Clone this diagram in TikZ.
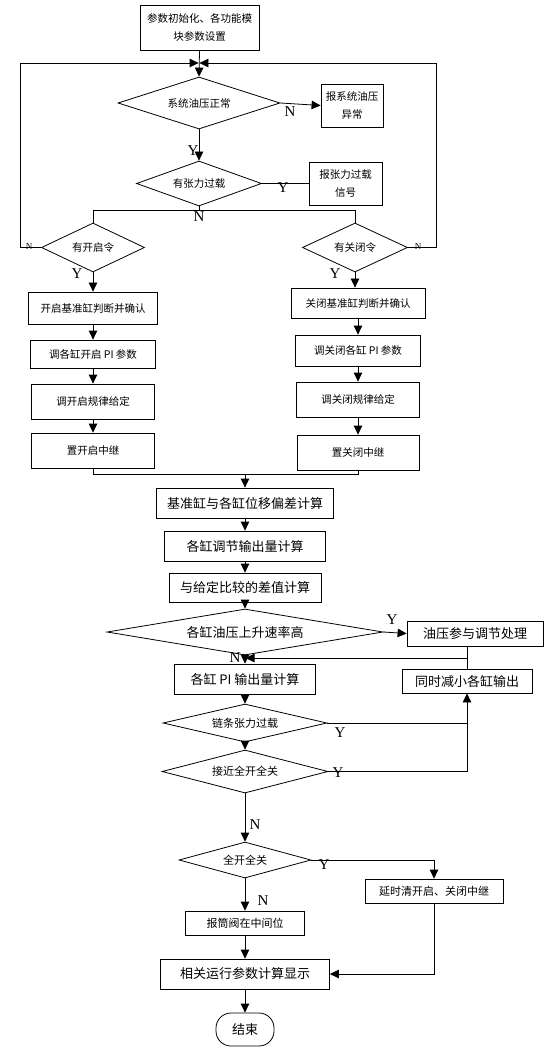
\documentclass[tikz,border=0pt]{standalone}
\usepackage{fontspec}
\setmainfont{Liberation Serif}
\newfontfamily\cjk{Noto Sans CJK SC}
\usetikzlibrary{shapes.geometric,arrows.meta}
\begin{document}
\begin{tikzpicture}[x=1pt,y=-1pt,line width=0.8pt,
  box/.style={draw,rectangle,inner sep=0pt,align=center},
  dia/.style={draw,diamond,aspect=5,inner sep=0pt,align=center},
  tS/.style={font=\cjk\fontsize{10.5}{18}\selectfont},
  tM/.style={font=\cjk\fontsize{11}{18}\selectfont},
  tL/.style={font=\cjk\fontsize{13}{18}\selectfont},
  arr/.style={-{Triangle[length=9pt,width=8.5pt]}},
  yn/.style={font=\fontsize{15}{15}\selectfont,inner sep=0pt},
  ynsmall/.style={font=\fontsize{9}{9}\selectfont,inner sep=0pt}]
\useasboundingbox (0,0) rectangle (547,1064);
% ---------- top part ----------
\node[box,tS,minimum width=119pt,minimum height=45pt] (init) at (199.5,27.5) {参数初始化、各功能模\\块参数设置};
\node[dia,tS,minimum width=162pt,minimum height=52pt] (d1) at (199,103) {系统油压正常};
\node[box,tS,minimum width=62pt,minimum height=43pt] (a1) at (352,105.5) {报系统油压\\异常};
\node[dia,tS,minimum width=125pt,minimum height=45pt] (d2) at (199,183.5) {有张力过载};
\node[box,tS,minimum width=73pt,minimum height=43pt] (a2) at (345.5,183.5) {报张力过载\\信号};
\node[dia,tS,minimum width=103pt,minimum height=49pt] (d3) at (93,247.5) {有开启令};
\node[dia,tS,minimum width=105pt,minimum height=49pt] (d4) at (355,247.5) {有关闭令};
% left column
\node[box,tS,minimum width=129pt,minimum height=32pt] (L1) at (93,308) {开启基准缸判断并确认};
\node[box,tS,minimum width=125pt,minimum height=28pt] (L2) at (93,354) {调各缸开启 PI 参数};
\node[box,tS,minimum width=123pt,minimum height=35pt] (L3) at (93,401.5) {调开启规律给定};
\node[box,tS,minimum width=123pt,minimum height=35pt] (L4) at (93,450.5) {置开启中继};
% right column
\node[box,tS,minimum width=134pt,minimum height=30pt] (R1) at (358,303) {关闭基准缸判断并确认};
\node[box,tS,minimum width=125pt,minimum height=31pt] (R2) at (358,350.5) {调关闭各缸 PI 参数};
\node[box,tS,minimum width=123pt,minimum height=35pt] (R3) at (358,399.5) {调关闭规律给定};
\node[box,tS,minimum width=122pt,minimum height=35pt] (R4) at (358,452.5) {置关闭中继};
% ---------- center column ----------
\node[box,tL,minimum width=177pt,minimum height=30pt] (B1) at (245,503) {基准缸与各缸位移偏差计算};
\node[box,tL,minimum width=161pt,minimum height=30pt] (B2) at (245,546) {各缸调节输出量计算};
\node[box,tL,minimum width=152pt,minimum height=29pt] (B3) at (245,587.5) {与给定比较的差值计算};
\node[dia,tL,minimum width=276pt,minimum height=46pt] (d5) at (245,632) {各缸油压上升速率高};
\node[box,tL,minimum width=136pt,minimum height=25pt] (P1) at (475,633.5) {油压参与调节处理};
\node[box,tL,minimum width=130pt,minimum height=24pt] (P2) at (467,681) {同时减小各缸输出};
\node[box,tL,minimum width=141pt,minimum height=30pt] (B4) at (245,679) {各缸 PI 输出量计算};
\node[dia,tM,minimum width=164pt,minimum height=38pt] (d6) at (245,723) {链条张力过载};
\node[dia,tM,minimum width=166pt,minimum height=43pt] (d7) at (245,771.5) {接近全开全关};
\node[dia,tM,minimum width=132pt,minimum height=36pt] (d8) at (245,860) {全开全关};
\node[box,tM,minimum width=138pt,minimum height=24pt] (P3) at (434,891) {延时清开启、关闭中继};
\node[box,tM,minimum width=119pt,minimum height=24pt] (B5) at (245,923) {报筒阀在中间位};
\node[box,tL,minimum width=169pt,minimum height=30pt] (B6) at (245,974) {相关运行参数计算显示};
\node[draw,rounded corners=15pt,inner sep=0pt,tL,minimum width=58pt,minimum height=33pt] (end) at (245,1029.5) {结束};
% ---------- coordinates ----------
\coordinate (lt) at (20,63);
\coordinate (rt) at (436,63);
\coordinate (jl) at (198.6,63);
\coordinate (jr) at (199.4,63);
\coordinate (hl) at (93,210);
\coordinate (hr) at (355,210);
\coordinate (ml) at (93,474);
\coordinate (mr) at (358,474);
\coordinate (mc) at (245,474);
\coordinate (pj) at (467,658);
\coordinate (pm) at (245.5,658);
% ---------- connectors ----------
\draw[arr] (init.south) -- (d1.north);
\draw[arr] (d3.west) -| (lt) -- (jl);
\draw[arr] (d4.east) -| (rt) -- (jr);
\draw[arr] (d1.east) -- (a1.west);
\draw[arr] (d1.south) -- (d2.north);
\draw (d2.east) -- (a2.west);
\draw (d2.south) -- (d2.south |- hl);
\draw (hl) -- (hr);
\draw (hl) -- (d3.north);
\draw (hr) -- (d4.north);
\draw[arr] (d3.south) -- (L1.north);
\draw[arr] (L1.south) -- (L2.north);
\draw[arr] (L2.south) -- (L3.north);
\draw[arr] (L3.south) -- (L4.north);
\draw[arr] (d4.south) -- (d4.south |- R1.north);
\draw[arr] (R1.south) -- (R2.north);
\draw[arr] (R2.south) -- (R3.north);
\draw[arr] (R3.south) -- (R4.north);
\draw (L4.south) -- (ml) -- (mr) -- (R4.south);
\draw[arr] (mc) -- (B1.north);
\draw[arr] (B1.south) -- (B2.north);
\draw[arr] (B2.south) -- (B3.north);
\draw[arr] (B3.south) -- (d5.north);
\draw[arr] (d5.east) -- (P1.west);
\draw[arr] (d5.south) -- (B4.north);
\draw (pj |- P1.south) -- (P2.north);
\draw[arr] (pj) -- (pm);
\draw[arr] (B4.south) -- (d6.north);
\draw[arr] (d6.south) -- (d7.north);
\draw (d6.east) -- (d6.east -| P2.south);
\draw[arr] (d7.east) -| (P2.south);
\draw[arr] (d7.south) -- (d8.north);
\draw[arr] (d8.east) -| (P3.north);
\draw[arr] (d8.south) -- (B5.north);
\draw[arr] (B5.south) -- (B6.north);
\draw[arr] (P3.south) |- (B6.east);
\draw[arr] (B6.south) -- (end.north);
% ---------- labels ----------
\node[yn] (l1) at (290,112) {N};
\node[yn] (l2) at (193,151) {Y};
\node[yn] (l3) at (283,188) {Y};
\node[yn] (l4) at (199,217) {N};
\node[ynsmall] (l5) at (29,247) {N};
\node[ynsmall] (l6) at (418,247) {N};
\node[yn] (l7) at (77,274) {Y};
\node[yn] (l8) at (335,274) {Y};
\node[yn] (l9) at (392,620) {Y};
\node[yn] (l10) at (235,658) {N};
\node[yn] (l11) at (340,733) {Y};
\node[yn] (l12) at (338,773) {Y};
\node[yn] (l13) at (255,825) {N};
\node[yn] (l14) at (324,865) {Y};
\node[yn] (l15) at (263,901) {N};
\end{tikzpicture}
\end{document}
